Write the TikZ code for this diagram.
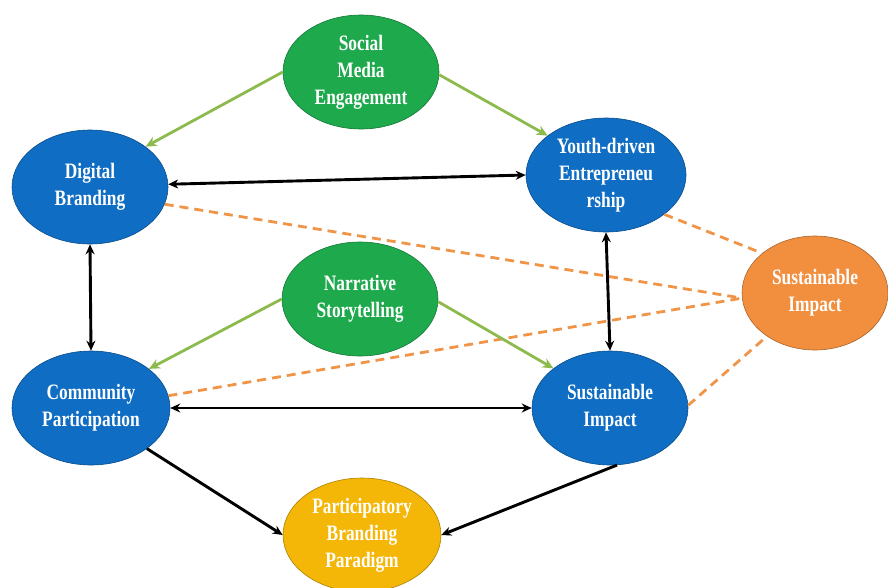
\documentclass[tikz,border=0pt]{standalone}
\usepackage{fontspec}
\setmainfont{Liberation Serif}[FakeStretch=0.79]
\usetikzlibrary{shapes.geometric,arrows.meta}
\definecolor{nblue}{HTML}{0F6DC4}
\definecolor{ngreen}{HTML}{1EA94C}
\definecolor{norange}{HTML}{F28F3F}
\definecolor{nyellow}{HTML}{F5B707}
\definecolor{agreen}{HTML}{8DBA4C}
\definecolor{dorange}{HTML}{F09448}
\begin{document}
\begin{tikzpicture}[x=1pt,y=-1pt,
  ell/.style={ellipse,draw=#1!70!black,line width=0.6pt,fill=#1,inner sep=0pt,
    minimum width=156pt,minimum height=114pt,text=white,align=center,
    font=\fontsize{22}{27}\selectfont\bfseries},
  blk/.style={line width=2.9pt,black,-{Stealth[length=10pt,width=9pt]}},
  blk2/.style={line width=2.9pt,black,{Stealth[length=10pt,width=9pt]}-{Stealth[length=10pt,width=9pt]}},
  grn/.style={line width=2.8pt,agreen,-{Stealth[length=11pt,width=10pt]}},
  dsh/.style={line width=2.8pt,dorange,dash pattern=on 9pt off 6pt}]
\useasboundingbox (0,0) rectangle (888,587);
\node[ell=ngreen] (soc) at (361,72) {Social\\Media\\Engagement};
\node[ell=nblue] (db) at (90,187) {Digital\\Branding};
\node[ell=nblue,minimum width=160pt] (yd) at (606,175) {Youth-driven\\Entrepreneu\\rship};
\node[ell=ngreen] (nar) at (360,299) {Narrative\\Storytelling};
\node[ell=nblue,minimum width=158pt] (cp) at (91,408) {Community\\Participation};
\node[ell=nblue] (si) at (610,408) {Sustainable\\Impact};
\node[ell=norange,minimum width=146pt] (or) at (815,293) {Sustainable\\Impact};
\node[ell=nyellow,minimum width=158pt] (pbp) at (362,535) {Participatory\\Branding\\Paradigm};
% dashed
\draw[dsh] (db.-13) -- (or.184);
\draw[dsh] (cp.9) -- (or.184);
\draw[dsh] (yd.-34) -- (or.143);
\draw[dsh] (si.2) -- (or.222);
% green
\draw[grn] (soc.180) -- (db.36);
\draw[grn] (soc.-2) -- (yd.146);
\draw[grn] (nar.180) -- (cp.34);
\draw[grn] (nar.-2) -- (si.145);
% black
\draw[blk2] (db.2) -- (yd.180);
\draw[blk2] (db.270) -- (cp.90);
\draw[blk2] (yd.270) -- (si.90);
\draw[blk2] (cp.0) -- (si.180);
\draw[blk] (cp.-36) -- (pbp.180);
\draw[blk] (si.-83) -- (pbp.0);
\end{tikzpicture}
\end{document}
